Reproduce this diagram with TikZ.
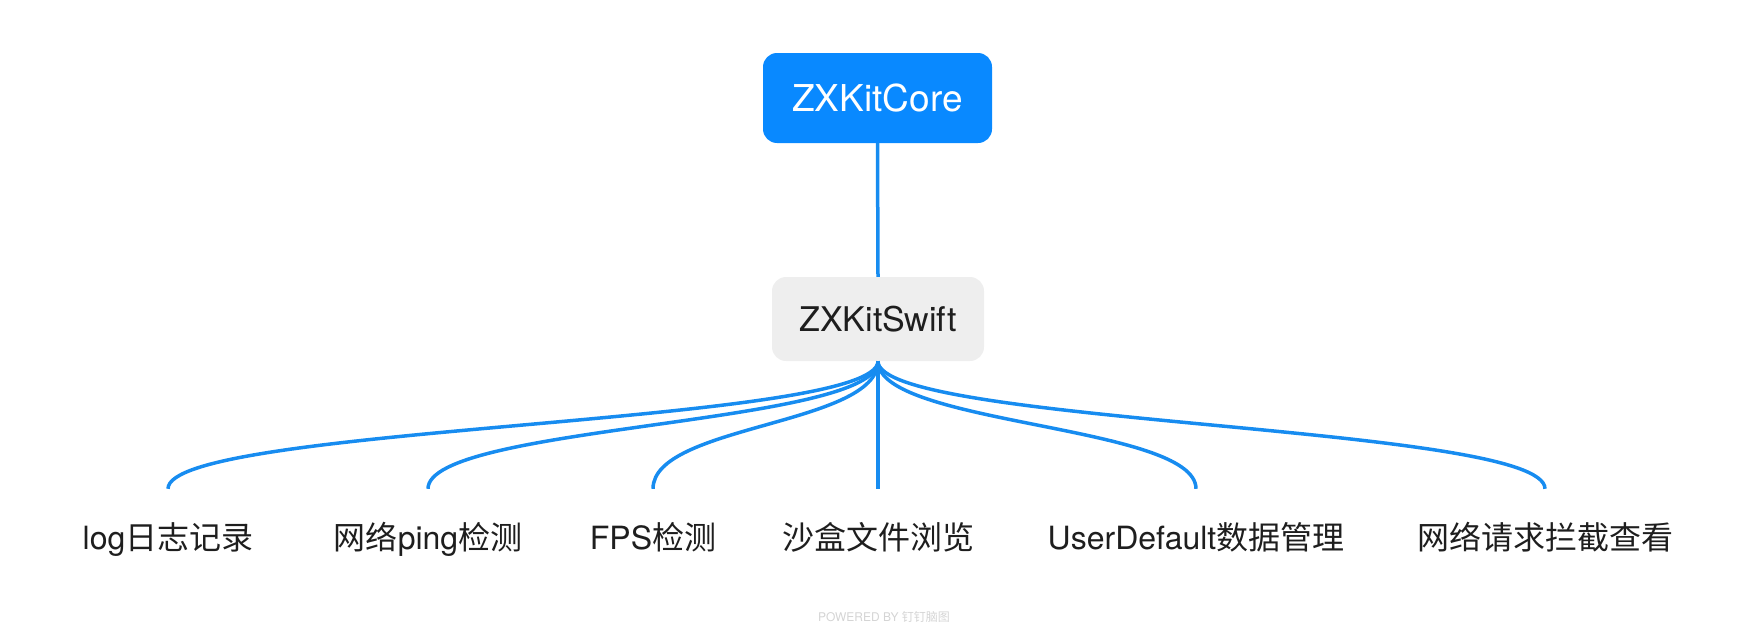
\documentclass[tikz,border=0pt]{standalone}
\usepackage{fontspec}
\newfontfamily\zlat{TeX Gyre Heros}
\newfontfamily\zcjk{Noto Sans CJK SC}
\definecolor{coreblue}{HTML}{0989FF}
\definecolor{linkblue}{HTML}{178CF0}
\definecolor{swiftgray}{HTML}{EEEEEE}
\definecolor{txtdark}{HTML}{1E1E1E}
\definecolor{wmgray}{HTML}{D4D4D4}
\tikzset{
  corebox/.style={fill=coreblue, rounded corners=14pt, minimum width=229pt, minimum height=90pt,
    inner sep=0pt, text=white, font=\zlat\fontsize{37}{44}\selectfont},
  swiftbox/.style={fill=swiftgray, rounded corners=14pt, minimum width=212pt, minimum height=84pt,
    inner sep=0pt, text=txtdark, font=\zlat\fontsize{34}{40}\selectfont},
  leaf/.style={anchor=base, inner sep=0pt, text height=26pt, text depth=6pt, text=txtdark,
    font=\zcjk\fontsize{32}{38}\selectfont},
  link/.style={draw=linkblue, line width=3.5pt},
}
\begin{document}
\begin{tikzpicture}[x=1pt, y=-1pt]
\useasboundingbox (0,0) rectangle (1756,632);
\node[corebox] (core) at (877.5,98) {ZXKitCore};
\node[swiftbox] (swift) at (878,319) {ZXKitSwift};
\node[leaf] (l1) at (168,549) {{\zlat log}日志记录};
\node[leaf] (l2) at (428,549) {网络{\zlat ping}检测};
\node[leaf] (l3) at (653,549) {{\zlat FPS}检测};
\node[leaf] (l4) at (878,549) {沙盒文件浏览};
\node[leaf] (l5) at (1196,549) {{\zlat UserDefault}数据管理};
\node[leaf] (l6) at (1545,549) {网络请求拦截查看};
\node[font=\zlat\fontsize{12}{14}\selectfont, text=wmgray] (wm) at (884,617) {POWERED BY {\zcjk 钉钉脑图}};
\draw[link] (core.south) -- (swift.north);
\foreach \i in {1,...,6}{
  \draw[link] (swift.south) .. controls +(0,64) and +(0,-64) .. ([yshift=34pt]l\i.north);
}
\end{tikzpicture}
\end{document}
